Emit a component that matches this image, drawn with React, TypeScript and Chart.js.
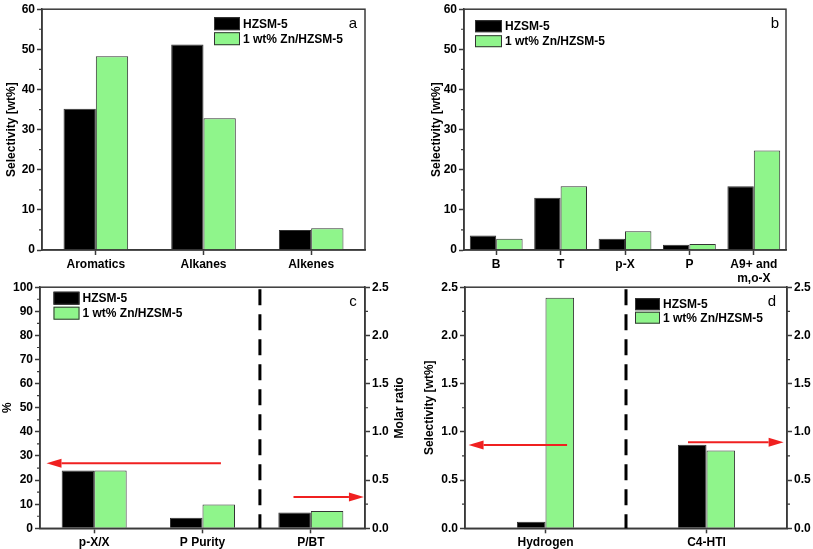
import React, { useEffect, useRef } from 'react';
import { Chart, registerables } from 'chart.js';
Chart.register(...registerables);

// ---------- data ----------
const seriesNames = ['HZSM-5', '1 wt% Zn/HZSM-5'];

const catsA = ['Aromatics', 'Alkanes', 'Alkenes'];
const hzA = [35.2, 51.2, 5.0];
const znA = [48.3, 32.8, 5.4];

const catsB = ['B', 'T', 'p-X', 'P', ['A9+ and', 'm,o-X']];
const hzB = [3.6, 13.0, 2.8, 1.3, 15.9];
const znB = [2.8, 15.9, 4.7, 1.5, 24.8];

const catsC = ['p-X/X', 'P Purity', 'P/BT'];
const hzCPercent = [24.0, 4.4, null];
const znCPercent = [24.0, 9.9, null];
const hzCRatio = [null, null, 0.165];
const znCRatio = [null, null, 0.18];

const catsD = ['Hydrogen', 'C4-HTI'];
const hzDLeft = [0.068, null];
const znDLeft = [2.39, null];
const hzDRight = [null, 0.867];
const znDRight = [null, 0.806];

// ---------- styles ----------
const FONT = "'Liberation Sans', Arial, Helvetica, sans-serif";
const BLACK = '#000000';
const GREEN = '#8ff58b';
const AXIS = '#3a3a3a';

function fmt(dec: number) {
  return (v: any) => Number(v).toFixed(dec);
}

const decorPlugin = {
  id: 'decor',
  afterDatasetsDraw(chart: any, _args: any, o: any) {
    const { ctx, chartArea: a, scales } = chart;
    ctx.save();
    // frame
    ctx.strokeStyle = AXIS;
    ctx.lineWidth = 1.5;
    ctx.strokeRect(a.left, a.top, a.right - a.left, a.bottom - a.top);
    // minor ticks
    ['y', 'y1'].forEach((id) => {
      const s = scales[id];
      if (!s) return;
      const t = s.ticks;
      const x0 = s.position === 'left' ? a.left : a.right;
      const dir = s.position === 'left' ? -1 : 1;
      ctx.beginPath();
      for (let i = 0; i < t.length - 1; i++) {
        const py = s.getPixelForValue((t[i].value + t[i + 1].value) / 2);
        ctx.moveTo(x0, py);
        ctx.lineTo(x0 + dir * 3, py);
      }
      ctx.lineWidth = 1.2;
      ctx.stroke();
    });
    // right axis title (reads bottom-to-top)
    if (o.rightTitle) {
      const s = scales.y1;
      ctx.save();
      ctx.translate(s.right - o.rightTitle.dx, (a.top + a.bottom) / 2);
      ctx.rotate(-Math.PI / 2);
      ctx.font = `bold 12px ${FONT}`;
      ctx.fillStyle = '#000';
      ctx.textAlign = 'center';
      ctx.textBaseline = 'middle';
      ctx.fillText(o.rightTitle.text, 0, 0);
      ctx.restore();
    }
    // dashed divider
    if (o.divider != null) {
      const x = scales.x.getPixelForValue(o.divider);
      ctx.beginPath();
      ctx.setLineDash([16, 9]);
      ctx.strokeStyle = '#000';
      ctx.lineWidth = 3;
      ctx.moveTo(x, a.top + 2);
      ctx.lineTo(x, a.bottom);
      ctx.stroke();
      ctx.setLineDash([]);
    }
    // arrows
    (o.arrows || []).forEach((ar: any) => {
      const s = scales[ar.axis];
      const y = s.getPixelForValue(ar.y);
      const x1 = scales.x.getPixelForValue(ar.from);
      const x2 = scales.x.getPixelForValue(ar.to);
      const dir = x2 > x1 ? 1 : -1;
      const head = 15;
      ctx.strokeStyle = '#f02020';
      ctx.fillStyle = '#f02020';
      ctx.lineWidth = 2;
      ctx.beginPath();
      ctx.moveTo(x1, y);
      ctx.lineTo(x2 - dir * head, y);
      ctx.stroke();
      ctx.beginPath();
      ctx.moveTo(x2, y);
      ctx.lineTo(x2 - dir * head, y - 4.5);
      ctx.lineTo(x2 - dir * head, y + 4.5);
      ctx.closePath();
      ctx.fill();
    });
    // legend
    const lg = o.legend;
    const ds = chart.data.datasets;
    for (let i = 0; i < 2; i++) {
      const bx = a.left + lg.x;
      const by = a.top + lg.y + i * lg.gap;
      ctx.fillStyle = ds[i].backgroundColor;
      ctx.fillRect(bx, by, lg.w, lg.h);
      ctx.strokeStyle = '#333';
      ctx.lineWidth = 1;
      ctx.strokeRect(bx + 0.5, by + 0.5, lg.w - 1, lg.h - 1);
      ctx.fillStyle = '#000';
      ctx.font = `bold 12px ${FONT}`;
      ctx.textAlign = 'left';
      ctx.textBaseline = 'middle';
      ctx.fillText(ds[i].label, bx + lg.w + 3, by + lg.h / 2 + 0.5);
    }
    // panel letter
    ctx.font = `15px ${FONT}`;
    ctx.fillStyle = '#000';
    ctx.textAlign = 'center';
    ctx.textBaseline = 'middle';
    ctx.fillText(o.letter, a.right - o.letterDx, a.top + 15);
    ctx.restore();
  },
};

function barDs(label: string, data: any[], color: string, axis = 'y') {
  return {
    label,
    data,
    backgroundColor: color,
    borderColor: '#333',
    borderWidth: 1,
    yAxisID: axis,
    skipNull: true,
    categoryPercentage: 1,
    barPercentage: 1,
  };
}

function yScale(p: any) {
  return {
    type: 'linear',
    position: p.position,
    min: 0,
    max: p.max,
    afterFit: (s: any) => {
      s.width = p.width;
    },
    ticks: {
      stepSize: p.step,
      font: { family: FONT, size: 12, weight: 'bold' },
      color: '#000',
      padding: 2,
      callback: fmt(p.dec),
    },
    grid: {
      drawOnChartArea: false,
      drawTicks: true,
      tickLength: 5,
      tickColor: AXIS,
      tickWidth: 1.5,
    },
    border: { display: true, color: AXIS, width: 1.5 },
    title: {
      display: !!p.title,
      text: p.title || '',
      font: { family: FONT, size: 12, weight: 'bold' },
      color: '#000',
      padding: { top: p.titlePad || 0, bottom: 0 },
    },
  };
}

function buildConfig(p: any) {
  const scales: any = {
    x: {
      type: 'category',
      offset: true,
      afterFit: (s: any) => {
        s.height = p.xH;
      },
      ticks: {
        font: { family: FONT, size: 12, weight: 'bold' },
        color: '#000',
        padding: 2,
        maxRotation: 0,
        minRotation: 0,
        autoSkip: false,
      },
      grid: {
        offset: false,
        drawOnChartArea: false,
        drawTicks: true,
        tickLength: 5,
        tickColor: AXIS,
        tickWidth: 1.5,
      },
      border: { display: true, color: AXIS, width: 1.5 },
    },
    y: yScale(p.y),
  };
  if (p.y1) scales.y1 = yScale(p.y1);
  const datasets = p.datasets.map((d: any) => ({ ...d, categoryPercentage: p.catPct }));
  return {
    type: 'bar',
    data: { labels: p.labels, datasets },
    options: {
      responsive: false,
      maintainAspectRatio: false,
      animation: false,
      devicePixelRatio: 1,
      layout: { padding: p.padding },
      plugins: {
        legend: { display: false },
        tooltip: { enabled: false },
        decor: p.decor,
      },
      scales,
    },
    plugins: [decorPlugin],
  };
}

const panelA = {
  box: { left: 0, top: 0, width: 406, height: 278 },
  labels: catsA,
  catPct: 0.6,
  padding: { left: 0, top: 7, right: 41, bottom: 0 },
  xH: 28,
  y: { position: 'left', max: 60, step: 10, dec: 0, width: 42, title: 'Selectivity [wt%]', titlePad: 4.5 },
  datasets: [barDs(seriesNames[0], hzA, BLACK), barDs(seriesNames[1], znA, GREEN)],
  decor: { letter: 'a', letterDx: 12, legend: { x: 172, y: 8, w: 26, h: 13, gap: 15 } },
};

const panelB = {
  box: { left: 424, top: 0, width: 389, height: 292 },
  labels: catsB,
  catPct: 0.82,
  padding: { left: 0, top: 7, right: 27, bottom: 0 },
  xH: 42,
  y: { position: 'left', max: 60, step: 10, dec: 0, width: 40, title: 'Selectivity [wt%]', titlePad: 5.5 },
  datasets: [barDs(seriesNames[0], hzB, BLACK), barDs(seriesNames[1], znB, GREEN)],
  decor: { letter: 'b', letterDx: 11, legend: { x: 11, y: 11, w: 27, h: 12, gap: 15 } },
};

const panelC = {
  box: { left: 0, top: 278, width: 410, height: 271 },
  labels: catsC,
  catPct: 0.6,
  padding: { left: 0, top: 7.5, right: 0, bottom: 0 },
  xH: 20.7,
  y: { position: 'left', max: 100, step: 10, dec: 0, width: 40, title: '%', titlePad: 0.8 },
  y1: { position: 'right', max: 2.5, step: 0.5, dec: 1, width: 45 },
  datasets: [
    barDs(seriesNames[0], hzCPercent, BLACK),
    barDs(seriesNames[1], znCPercent, GREEN),
    barDs(seriesNames[0], hzCRatio, BLACK, 'y1'),
    barDs(seriesNames[1], znCRatio, GREEN, 'y1'),
  ],
  decor: {
    letter: 'c',
    letterDx: 12,
    legend: { x: 13.5, y: 4.5, w: 26, h: 13, gap: 15 },
    rightTitle: { text: 'Molar ratio', dx: 10.7 },
    divider: 1.53,
    arrows: [
      { axis: 'y', y: 27, from: 1.17, to: -0.44 },
      { axis: 'y1', y: 0.325, from: 1.84, to: 2.49 },
    ],
  },
};

const panelD = {
  box: { left: 422, top: 278, width: 391, height: 271 },
  labels: catsD,
  catPct: 0.355,
  padding: { left: 0, top: 7.5, right: 0, bottom: 0 },
  xH: 20.7,
  y: { position: 'left', max: 2.5, step: 0.5, dec: 1, width: 43, title: 'Selectivity [wt%]', titlePad: 0 },
  y1: { position: 'right', max: 2.5, step: 0.5, dec: 1, width: 26 },
  datasets: [
    barDs(seriesNames[0], hzDLeft, BLACK),
    barDs(seriesNames[1], znDLeft, GREEN),
    barDs(seriesNames[0], hzDRight, BLACK, 'y1'),
    barDs(seriesNames[1], znDRight, GREEN, 'y1'),
  ],
  decor: {
    letter: 'd',
    letterDx: 15,
    legend: { x: 170, y: 11, w: 25, h: 12, gap: 13.5 },
    divider: 0.5,
    arrows: [
      { axis: 'y', y: 0.864, from: 0.134, to: -0.478 },
      { axis: 'y1', y: 0.891, from: 0.885, to: 1.479 },
    ],
  },
};

function Panel({ cfg }: { cfg: any }) {
  const ref = useRef<HTMLCanvasElement>(null);
  useEffect(() => {
    const chart = new Chart(ref.current as any, buildConfig(cfg) as any);
    return () => chart.destroy();
  }, []);
  const b = cfg.box;
  return (
    <canvas
      ref={ref}
      width={b.width}
      height={b.height}
      style={{ position: 'absolute', left: b.left, top: b.top, width: b.width, height: b.height }}
    />
  );
}

export default function App() {
  return (
    <div
      style={{
        position: 'absolute',
        left: 0,
        top: 0,
        width: 813,
        height: 549,
        background: '#fff',
        overflow: 'hidden',
      }}
    >
      <Panel cfg={panelA} />
      <Panel cfg={panelB} />
      <Panel cfg={panelC} />
      <Panel cfg={panelD} />
    </div>
  );
}
